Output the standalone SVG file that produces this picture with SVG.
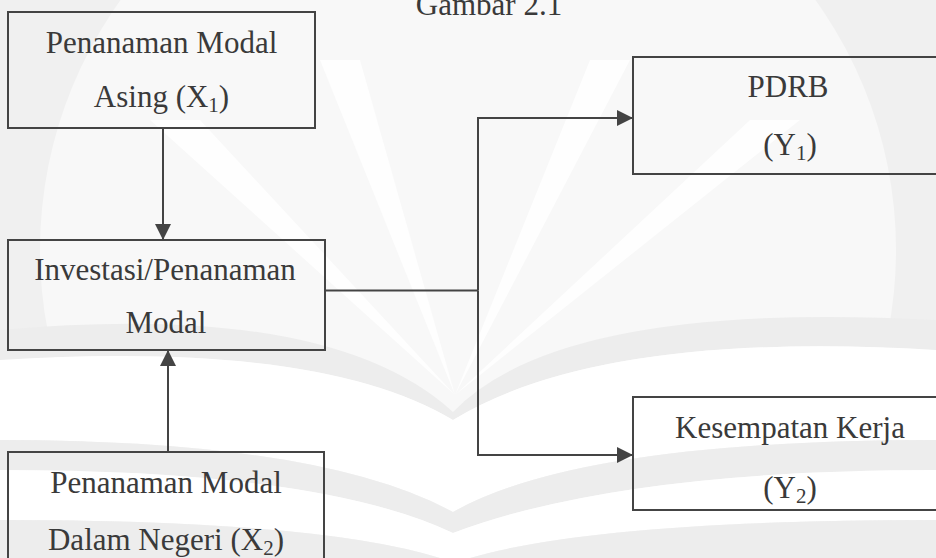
<svg xmlns="http://www.w3.org/2000/svg" width="936" height="558" viewBox="0 0 936 558">
  <style>
    .box { fill: none; stroke: #444; stroke-width: 2; }
    .lbl { font-family: "Liberation Serif", "Times New Roman", serif; font-size: 31px; fill: #3a3a3a; text-anchor: middle; }
    .sub { font-size: 21px; }
    .wire { fill: none; stroke: #444; stroke-width: 2; }
    .band { fill: #ededed; stroke: none; }
    .gap { fill: #ffffff; stroke: none; }
    .ray { fill: #ffffff; stroke: none; opacity: 0.8; }
  </style>
  <defs>
    <marker id="arr" viewBox="0 0 16 16" refX="16" refY="8" markerWidth="16" markerHeight="16" markerUnits="userSpaceOnUse" orient="auto">
      <path d="M0,0 L16,8 L0,16 Z" fill="#444"/>
    </marker>
  </defs>
  <rect width="936" height="558" fill="#f0f0f0"/>
  <g id="watermark">
    <circle cx="468" cy="250" r="428" fill="#f8f8f8"/>
    <path class="ray" d="M 455 395 L 150 120 L 200 120 Z"/>
    <path class="ray" d="M 455 395 L 320 60 L 360 60 Z"/>
    <path class="ray" d="M 455 395 L 590 60 L 630 60 Z"/>
    <path class="ray" d="M 455 395 L 750 120 L 800 120 Z"/>
    <path class="band" d="M 0 330 Q 330 300 453 412 Q 560 300 936 320 L 936 350 Q 600 330 453 420 Q 320 340 0 360 Z"/>
    <path class="gap" d="M 0 360 Q 320 340 453 420 Q 600 330 936 350 L 936 440 Q 580 440 453 512 Q 320 440 0 440 Z"/>
    <path class="band" d="M 0 440 Q 320 440 453 512 Q 580 440 936 440 L 936 470 Q 620 470 453 533 Q 320 470 0 470 Z"/>
    <path class="gap" d="M 0 470 Q 320 470 453 533 Q 620 470 936 470 L 936 520 Q 600 520 470 558 L 440 558 Q 320 520 0 520 Z"/>
    <path class="band" d="M 0 520 Q 320 520 440 558 L 470 558 Q 600 520 936 520 L 936 558 L 0 558 Z"/>
  </g>
  <text class="lbl" x="489" y="15">Gambar 2.1</text>
  <g id="connectors">
    <line class="wire" x1="163" y1="128" x2="163" y2="240" marker-end="url(#arr)"/>
    <line class="wire" x1="168" y1="452" x2="168" y2="350" marker-end="url(#arr)"/>
    <polyline class="wire" points="325,290.5 478,290.5"/>
    <polyline class="wire" points="478,290.5 478,118 633,118" marker-end="url(#arr)"/>
    <polyline class="wire" points="478,290.5 478,455 633,455" marker-end="url(#arr)"/>
  </g>
  <g id="node-pma">
    <rect class="box" x="8" y="12" width="307" height="116"/>
    <text class="lbl" x="161.5" y="53">Penanaman Modal</text>
    <text class="lbl" x="161.5" y="107">Asing (X<tspan class="sub" dy="5">1</tspan><tspan dy="-5">)</tspan></text>
  </g>
  <g id="node-investasi">
    <rect class="box" x="8" y="240" width="317" height="110"/>
    <text class="lbl" x="165" y="280">Investasi/Penanaman</text>
    <text class="lbl" x="166" y="333">Modal</text>
  </g>
  <g id="node-pmdn">
    <rect class="box" x="8" y="452" width="316" height="120"/>
    <text class="lbl" x="166" y="493">Penanaman Modal</text>
    <text class="lbl" x="166" y="550">Dalam Negeri (X<tspan class="sub" dy="5">2</tspan><tspan dy="-5">)</tspan></text>
  </g>
  <g id="node-pdrb">
    <rect class="box" x="633" y="57" width="320" height="117"/>
    <text class="lbl" x="788" y="97">PDRB</text>
    <text class="lbl" x="790" y="155">(Y<tspan class="sub" dy="5">1</tspan><tspan dy="-5">)</tspan></text>
  </g>
  <g id="node-kerja">
    <rect class="box" x="633" y="397" width="320" height="113"/>
    <text class="lbl" x="790" y="438">Kesempatan Kerja</text>
    <text class="lbl" x="790" y="498">(Y<tspan class="sub" dy="5">2</tspan><tspan dy="-5">)</tspan></text>
  </g>
</svg>
